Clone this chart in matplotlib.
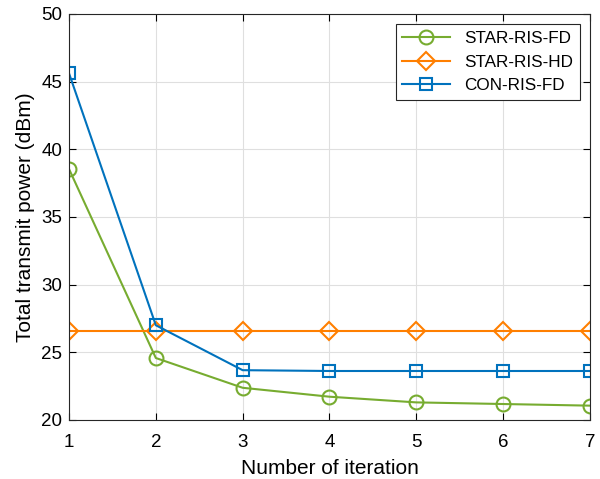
import matplotlib
matplotlib.use("Agg")
import matplotlib.pyplot as plt

iterations = [1, 2, 3, 4, 5, 6, 7]
star_fd = [38.55, 24.58, 22.38, 21.72, 21.3, 21.18, 21.06]
star_hd = [26.55, 26.55, 26.55, 26.55, 26.55, 26.55, 26.55]
con_fd = [45.62, 27.0, 23.68, 23.62, 23.62, 23.62, 23.62]

plt.rcParams["font.family"] = ["Liberation Sans", "DejaVu Sans"]

fig = plt.figure(figsize=(6, 4.79), dpi=100)
ax = fig.add_axes([0.115, 0.1232, 0.8683, 0.8476])

ax.plot(iterations, star_fd, color="#77AC30", marker="o", markersize=10,
        markerfacecolor="none", markeredgewidth=1.5, linewidth=1.5, label="STAR-RIS-FD")
ax.plot(iterations, star_hd, color="#FF7F00", marker="D", markersize=9,
        markerfacecolor="none", markeredgewidth=1.5, linewidth=1.5, label="STAR-RIS-HD")
ax.plot(iterations, con_fd, color="#0072BD", marker="s", markersize=8,
        markerfacecolor="none", markeredgewidth=1.5, linewidth=1.5, label="CON-RIS-FD")

ax.set_xlim(1, 7)
ax.set_ylim(20, 50)
ax.set_xticks(iterations)
ax.set_yticks(range(20, 51, 5))
ax.grid(True, color="#DFDFDF", linewidth=0.8)
ax.set_axisbelow(True)
ax.tick_params(direction="in", labelsize=13.5, top=True, right=True, length=5)
ax.tick_params(axis="x", pad=10)
ax.tick_params(axis="y", pad=5)
for s in ax.spines.values():
    s.set_color("#262626")
    s.set_linewidth(0.8)

ax.set_xlabel("Number of iteration", fontsize=15, labelpad=6)
ax.set_ylabel("Total transmit power (dBm)", fontsize=15, labelpad=4)

leg = ax.legend(loc="upper right", fontsize=12.3, fancybox=False, framealpha=1,
                edgecolor="#262626", handlelength=2.8, borderaxespad=0.6)
leg.get_frame().set_linewidth(0.8)

fig.savefig("out.png", dpi=100)
